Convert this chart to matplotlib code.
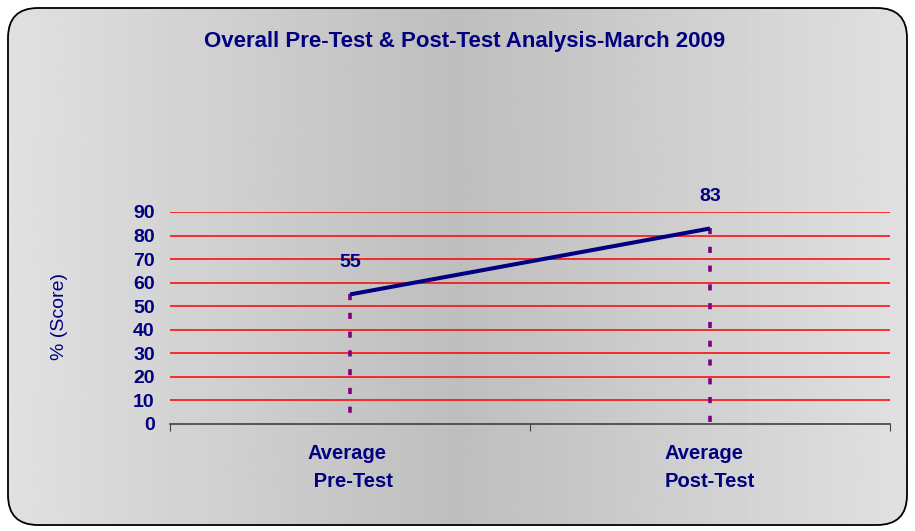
import numpy as np
import matplotlib.pyplot as plt
from matplotlib.patches import FancyBboxPatch

plt.rcParams['font.family'] = ['Liberation Sans', 'DejaVu Sans']

categories = ["Average\n Pre-Test", "Average\nPost-Test"]
scores = [55, 83]
yticks = [0, 10, 20, 30, 40, 50, 60, 70, 80, 90]

navy = '#000080'
W, H = 915, 531
fig = plt.figure(figsize=(W / 100, H / 100), dpi=100)

# background panel with grey gradient and rounded border
bg = fig.add_axes([0, 0, 1, 1])
bg.set_xlim(0, W)
bg.set_ylim(0, H)
bg.axis('off')
xs = np.linspace(0, 1, 400)
shade = 0.745 + 0.135 * np.abs(xs - 0.5) * 2
grad = np.tile(shade, (2, 1))
im = bg.imshow(grad, cmap='gray', vmin=0, vmax=1, aspect='auto',
               extent=(8, 907, 6, 523), zorder=0)
box = FancyBboxPatch((8, 6), 899, 517, boxstyle="round,pad=0,rounding_size=30",
                     facecolor='none', edgecolor='black', linewidth=1.3, zorder=2)
bg.add_patch(box)
im.set_clip_path(box)

ax = fig.add_axes([170 / W, 1 - 424 / H, 720 / W, 212 / H])
ax.set_facecolor('none')
x = np.arange(len(categories))

for yv in yticks[1:]:
    ax.axhline(yv, color='#ff0000', linewidth=1.1, zorder=1)

ax.plot(x, scores, color=navy, linewidth=2.9, zorder=3, solid_capstyle='butt')
for xi, s in zip(x, scores):
    # drop line from each point down to the axis
    ax.plot([xi, xi], [s, 0], color='#800080', linewidth=2.6,
            linestyle=(0, (1.7, 3.5)), zorder=2)
    ax.text(xi, s + 13.5, str(s), ha='center', va='center', color=navy,
            fontsize=14, fontweight='bold')

ax.set_xlim(-0.5, 1.5)
ax.set_ylim(0, 90)
ax.set_yticks(yticks)
ax.set_yticklabels([str(v) for v in yticks], color=navy, fontsize=14, fontweight='bold')
ax.tick_params(axis='y', length=0, pad=11)
ax.set_xticks([-0.5, 0.5, 1.5])
ax.set_xticklabels([])
ax.tick_params(axis='x', length=5, color='#404040', direction='out')
for xi, lab in zip(x, categories):
    ax.text(xi, -8.5, lab, ha='center', va='top', color=navy, fontsize=14.5,
            fontweight='bold', linespacing=1.6, multialignment='left')
for sp in ['top', 'right', 'left']:
    ax.spines[sp].set_visible(False)
ax.spines['bottom'].set_color('#404040')
ax.spines['bottom'].set_linewidth(1.2)

fig.text(59 / W, 1 - 317 / H, "% (Score)", rotation=90, ha='center', va='center',
         color=navy, fontsize=14)
fig.text(465 / W, 1 - 41 / H, "Overall Pre-Test & Post-Test Analysis-March 2009",
         ha='center', va='center', color=navy, fontsize=16, fontweight='bold')

fig.savefig('out.png', dpi=100)
